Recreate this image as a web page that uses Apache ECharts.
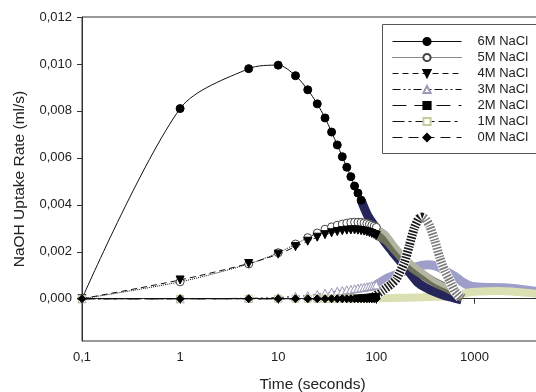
<!DOCTYPE html>
<html><head><meta charset="utf-8">
<script src="https://cdn.jsdelivr.net/npm/echarts@6/dist/echarts.min.js"></script>
<style>html,body{margin:0;padding:0;background:#fff}#c{width:536px;height:392px}</style>
</head><body><div id="c"></div>
<script>
// ---- data ----
const seriesNames = ['6M NaCl', '5M NaCl', '4M NaCl', '3M NaCl', '2M NaCl', '1M NaCl', '0M NaCl'];
const xTickLabels = [0.1, 1, 10, 100, 1000];
const yTickValues = [0, 0.002, 0.004, 0.006, 0.008, 0.010, 0.012];

// times (s) of the individually visible markers
const sparseT = [0.1, 1, 5, 10, 15, 20, 25, 30, 35, 40, 45, 50, 55, 60, 65, 70, 75, 80, 85, 90, 95, 100];

const m6V = [0, 0.0081, 0.0098, 0.00995, 0.0095, 0.0089, 0.0083, 0.0077, 0.0071, 0.00655, 0.00605, 0.0056, 0.0052, 0.0048, 0.0045, 0.0042];
const m5V = [0, 0.00072, 0.00148, 0.00196, 0.00233, 0.0026, 0.0028, 0.00296, 0.00306, 0.00313, 0.00318, 0.00322, 0.00325, 0.00326, 0.00326, 0.00325, 0.00323, 0.0032, 0.00317, 0.00313, 0.00309, 0.00304];
const m4V = [0, 0.0008, 0.0015, 0.0019, 0.00222, 0.00245, 0.00262, 0.00273, 0.00281, 0.00286, 0.0029, 0.00292, 0.00293, 0.00293, 0.00292, 0.0029, 0.00288, 0.00285, 0.00282, 0.00278, 0.00274, 0.0027];
const m3V = [0, 0, 0.00002, 0.00005, 0.0001, 0.00013, 0.00018, 0.00024, 0.00028, 0.00032, 0.00035, 0.00038, 0.0004, 0.00043, 0.00045, 0.00047, 0.00049, 0.00051, 0.00053, 0.00055, 0.00057, 0.00059];
const m2V = [0, 0, 0, 0, 0, 0, 0, 0, 0, 0, 0, 0.00001, 0.00002, 0.00002, 0.00003, 0.00004, 0.00005, 0.00006, 0.00007, 0.00008, 0.00009, 0.0001];
const m1V = [0, 0, 0, 0, 0, 0, 0, 0, 0, 0, 0, 0, 0];
const m0V = [0, 0, 0, 0, 0, 0, 0, 0, 0, 0, 0, 0, 0, 0, 0, 0, 0, 0, 0, 0, 0, 0];

// dense parts (markers merged into bands)
const b6T = [70, 82, 96, 116, 144, 181, 219, 264, 326, 400, 500, 600, 740];
const b6V = [0.0042, 0.00353, 0.0031, 0.00255, 0.00204, 0.00153, 0.00111, 0.0007, 0.00045, 0.00028, 0.00013, 0.00005, -0.00005];
const b5T = [100, 125, 160, 220, 300, 400, 560, 760];
const b5V = [0.00304, 0.00278, 0.0022, 0.00157, 0.00112, 0.00075, 0.00045, 0.0001];
const b4T = [100, 125, 160, 220, 300, 400, 560, 760];
const b4V = [0.0027, 0.0025, 0.002, 0.0014, 0.001, 0.00068, 0.0004, 0.00003];
const b3T = [100, 130, 160, 200, 250, 330, 400, 480, 560, 650, 750, 900, 1200, 2000, 3000, 5000];
const b3V = [0.00059, 0.00088, 0.00103, 0.0012, 0.00135, 0.00145, 0.0014, 0.00125, 0.00108, 0.00092, 0.00072, 0.00055, 0.00049, 0.00047, 0.0004, 0.00028];
const b2RiseT = [95, 115, 140, 160, 193, 217, 243, 270, 290, 304];
const b2RiseV = [0.00009, 0.00034, 0.0006, 0.00084, 0.00155, 0.00226, 0.003, 0.0034, 0.00348, 0.00345];
const b2FallT = [304, 320, 350, 395, 443, 497, 560, 630, 720];
const b2FallV = [0.00345, 0.00338, 0.0031, 0.00247, 0.00176, 0.00119, 0.00077, 0.00034, 0.00005];
const b1T = [55, 100, 200, 350, 500, 650, 750, 900, 1200, 1800, 2500, 3500, 5000];
const b1V = [0, 0.00002, 0.00004, 0.00007, 0.0001, 0.00012, 0.0002, 0.00028, 0.00031, 0.00033, 0.0003, 0.00025, 0.00018];

// ---- chart ----
function pairs(t, v) { return v.map((y, i) => [t[i], y]); }

function markerSeries(name, vals, symbol, size, fill, border, dash, rotate, z) {
  return {
    type: 'line', name: name, data: pairs(sparseT, vals), smooth: 0.3,
    symbol: symbol, symbolSize: size, symbolRotate: rotate || 0, showSymbol: true,
    itemStyle: { color: fill, borderColor: border, borderWidth: 1 },
    lineStyle: { color: '#111', width: 1, type: dash },
    z: z, animation: false
  };
}
function bandSeries(t, v, color, width, z, type, smooth) {
  return {
    type: 'line', data: pairs(t, v), smooth: smooth == null ? 0.3 : smooth, symbol: 'none', silent: true,
    lineStyle: { color: color, width: width, type: type || 'solid', cap: 'butt', join: 'round' },
    z: z, animation: false
  };
}

const series = [
  bandSeries(b3T, b3V, '#9d9ec9', 9, 2),
  bandSeries(b1T, b1V, '#dcdfb2', 8, 3),
  bandSeries(b6T, b6V, '#25255a', 9, 4),
  bandSeries(b4T, b4V, '#6e7159', 9, 5),
  bandSeries(b5T, b5V, '#b3b5a2', 5, 6),
  bandSeries(b2RiseT, b2RiseV, '#ffffff', 10, 7, 'solid', 0.2),
  bandSeries(b2FallT, b2FallV, '#ffffff', 10, 7, 'solid', 0.2),
  bandSeries(b2RiseT, b2RiseV, '#1a1a1a', 9, 8, [1.6, 1.4], 0.2),
  bandSeries(b2FallT, b2FallV, '#7a7a7a', 9, 8, [1.6, 1.4], 0.2),
  markerSeries(seriesNames[0], m6V, 'circle', 8, '#000', '#000', 'solid', 0, 10),
  markerSeries(seriesNames[1], m5V, 'circle', 8, '#fff', '#444', 'dotted', 0, 11),
  markerSeries(seriesNames[2], m4V, 'triangle', 8, '#000', '#000', [6, 4], 180, 12),
  markerSeries(seriesNames[3], m3V, 'triangle', 8, '#fff', '#9a9ab8', [8, 3, 2, 3, 2, 3], 0, 13),
  markerSeries(seriesNames[4], m2V, 'rect', 6, '#000', '#000', [14, 8], 0, 14),
  markerSeries(seriesNames[5], m1V, 'rect', 7, '#fff', '#c8cba0', [12, 4, 3, 4], 0, 15),
  markerSeries(seriesNames[6], m0V, 'diamond', 8, '#000', '#000', [10, 6], 0, 16)
];

const chart = echarts.init(document.getElementById('c'), null, { renderer: 'canvas' });
chart.setOption({
  animation: false,
  backgroundColor: '#fff',
  textStyle: { fontFamily: 'Liberation Sans, Arial, sans-serif' },
  grid: { left: 82, top: 17, right: -7, bottom: 51, containLabel: false, outerBoundsMode: 'none',
    show: true, borderColor: '#333', borderWidth: 1 },
  graphic: [{
    type: 'rect', left: 382, top: 24, z: 20, silent: true,
    shape: { width: 170, height: 129 },
    style: { fill: 'rgba(0,0,0,0)', stroke: '#555', lineWidth: 1 }
  }],
  legend: {
    data: seriesNames, orient: 'vertical', left: 382, top: 24,
    itemWidth: 69, itemHeight: 9, itemGap: 3,
    padding: [11, 10, 10, 10],
    lineStyle: { width: 1 },
    textStyle: { fontSize: 13, color: '#222', padding: [0, 0, 0, 11] }
  },
  xAxis: {
    type: 'log', logBase: 10, min: 0.1, max: 5000,
    name: 'Time (seconds)', nameLocation: 'middle', nameGap: 36,
    nameTextStyle: { fontSize: 15.5, color: '#222' },
    axisLine: { lineStyle: { color: '#333', width: 1 } },
    axisTick: { length: 5, lineStyle: { color: '#333' } },
    axisLabel: { fontSize: 13, color: '#222', margin: 10, showMaxLabel: false,
      formatter: v => String(+(+v).toPrecision(6)).replace('.', ',') },
    splitLine: { show: false }, minorTick: { show: false }
  },
  yAxis: {
    type: 'value', min: -0.0018, max: 0.012,
    name: 'NaOH Uptake Rate (ml/s)', nameLocation: 'middle', nameGap: 54,
    nameTextStyle: { fontSize: 15.5, color: '#222' },
    axisLine: { show: true, lineStyle: { color: '#333', width: 1 } },
    axisTick: { show: true, length: 5, customValues: yTickValues, lineStyle: { color: '#333' } },
    axisLabel: { fontSize: 13, color: '#222', margin: 10, customValues: yTickValues,
      formatter: v => (+v).toFixed(3).replace('.', ',') },
    splitLine: { show: false }
  },
  series: series
});
</script></body></html>
